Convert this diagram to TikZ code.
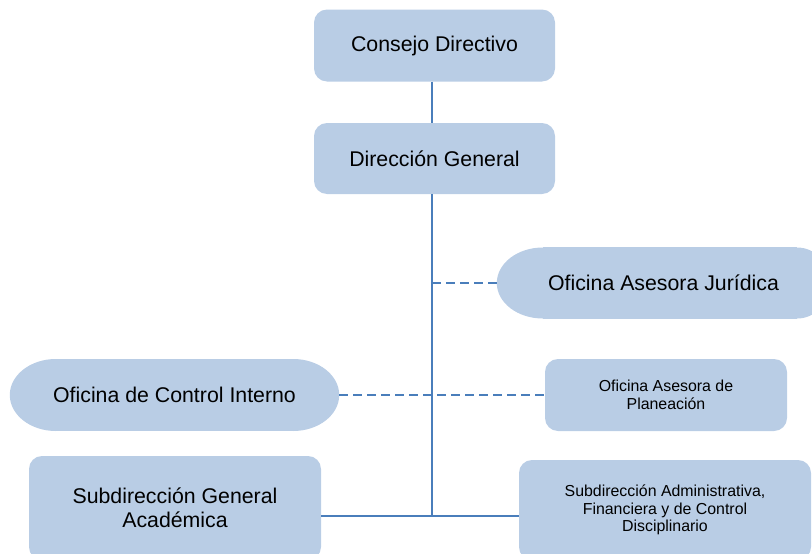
\documentclass[tikz,border=0pt]{standalone}
\usepackage{fontspec}
\setmainfont{Liberation Sans}
\usetikzlibrary{backgrounds}
\definecolor{boxfill}{HTML}{B9CDE5}
\definecolor{linkcol}{HTML}{4A7EBB}
\tikzset{
  unit/.style={fill=boxfill, draw=none, inner sep=0pt, align=center,
    font=\fontsize{21.3}{24.5}\selectfont},
  unitsmall/.style={unit, font=\fontsize{15.9}{17.6}\selectfont},
  roundbox/.style={rounded corners=13pt},
  pillbox/.style={fill=none},
  pillfill/.style={fill=boxfill},
  solidlink/.style={draw=linkcol, line width=1.8pt},
  dashlink/.style={draw=linkcol, line width=1.9pt, dash pattern=on 8.5pt off 5.5pt},
}
\begin{document}
\begin{tikzpicture}[x=1pt, y=-1pt]
\useasboundingbox (0,0) rectangle (812,554);
\clip (0,0) rectangle (812,554);
\node[unit, roundbox, minimum width=241pt, minimum height=72pt] (cd) at (434.5,45.5) {Consejo Directivo};
\node[unit, roundbox, minimum width=241pt, minimum height=71pt] (dg) at (434.5,158.5) {Dirección General};
\node[unit, pillbox, minimum width=333pt, minimum height=71pt] (oaj) at (663.5,283) {Oficina Asesora Jurídica};
\node[unit, pillbox, minimum width=329pt, minimum height=72pt] (oci) at (174.5,395) {Oficina de Control Interno};
\node[unitsmall, roundbox, minimum width=242pt, minimum height=72pt] (oap) at (666,395) {Oficina Asesora de\\Planeación};
\node[unit, roundbox, minimum width=292pt, minimum height=104pt] (sga) at (175,508) {Subdirección General\\Académica};
\node[unitsmall, roundbox, minimum width=292pt, minimum height=100pt] (sda) at (665,510) {Subdirección Administrativa,\\Financiera y de Control\\Disciplinario};
\begin{pgfonlayer}{background}
  \fill[pillfill] ([xshift=46pt]oci.north west) rectangle ([xshift=-46pt]oci.south east);
  \fill[pillfill] ([xshift=46pt]oci.west) ellipse [x radius=46pt, y radius=36pt];
  \fill[pillfill] ([xshift=-46pt]oci.east) ellipse [x radius=46pt, y radius=36pt];
  \fill[pillfill] ([xshift=46pt]oaj.north west) rectangle ([xshift=-33pt]oaj.south east);
  \fill[pillfill] ([xshift=46pt]oaj.west) ellipse [x radius=46pt, y radius=35.5pt];
  \fill[pillfill] ([xshift=-33pt]oaj.east) ellipse [x radius=33pt, y radius=35.5pt];
\end{pgfonlayer}
\coordinate (spine) at (432,0);
\coordinate (junc) at (432,516);
\draw[solidlink] (cd.south -| spine) -- (dg.north -| spine);
\draw[solidlink] (dg.south -| spine) -- (junc);
\draw[solidlink] (sga.east |- junc) -- (sda.west |- junc);
\draw[dashlink] (oaj.west -| spine) -- (oaj.west);
\draw[dashlink] (oci.east) -- (oap.west);
\end{tikzpicture}
\end{document}
